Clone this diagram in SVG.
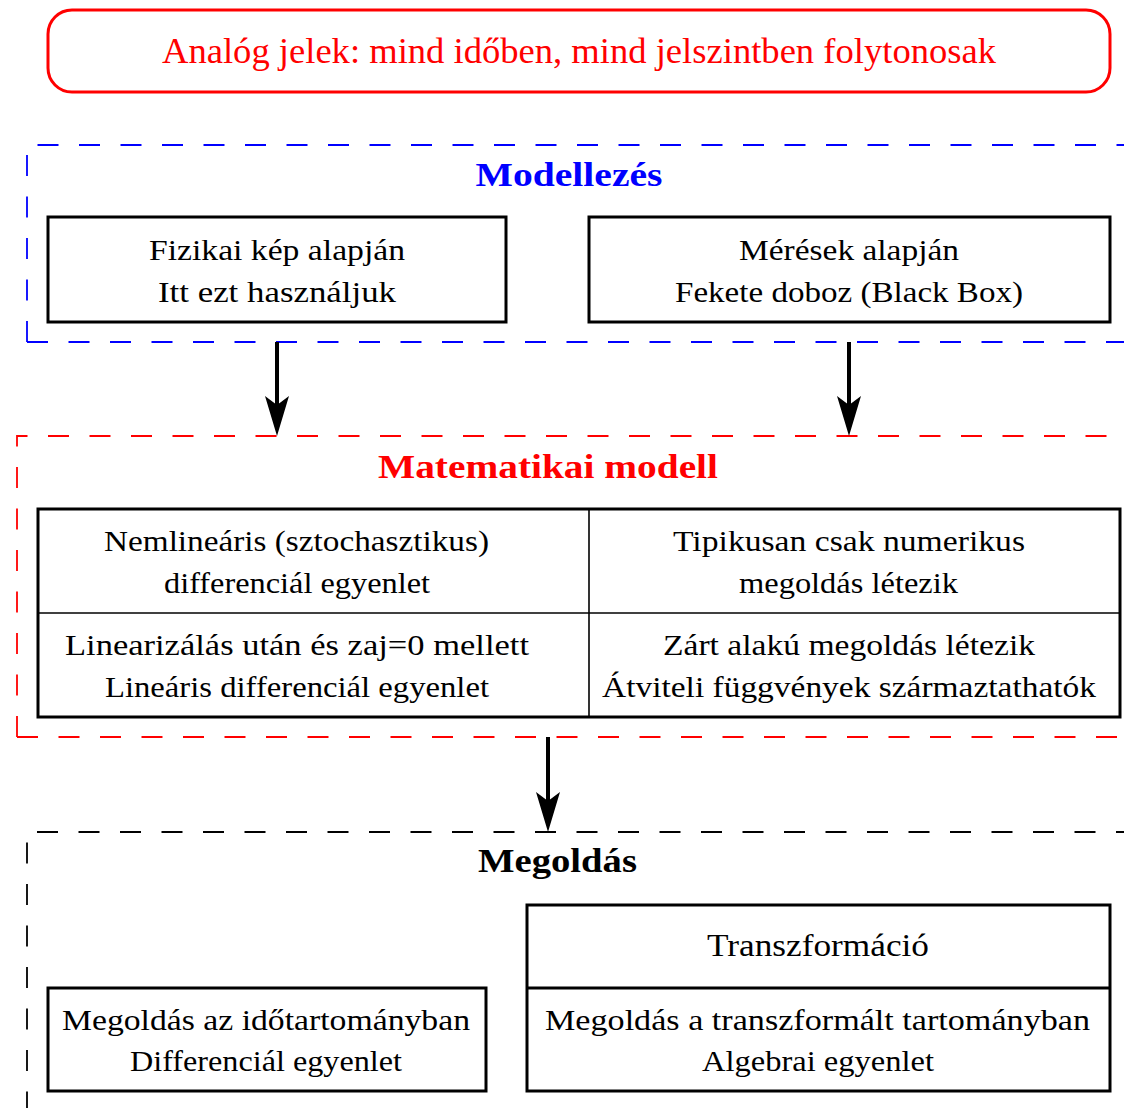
<svg xmlns="http://www.w3.org/2000/svg" width="1124" height="1108" viewBox="0 0 1124 1108">
<style>
text{font-family:"Liberation Serif","Times New Roman",serif;text-anchor:middle;fill:#000}
.t{font-size:29px}
.ttl{font-size:33px;font-weight:bold}
.box{fill:#fff;stroke:#000;stroke-width:3}
.thin{stroke:#000;stroke-width:1.6;fill:none}
.dash{fill:none;stroke-width:1.8;stroke-dasharray:21 20.5}
.arrow{fill:none;stroke:#000;stroke-width:4}
</style>
<defs>
<marker id="ah" viewBox="-41 -13 42 26" refX="-31" refY="0" markerWidth="42" markerHeight="26" markerUnits="userSpaceOnUse" orient="auto">
<path d="M0,0 L-40,-12 L-31,0 L-40,12 Z" fill="#000"/>
</marker>
</defs>
<rect width="1124" height="1108" fill="#fff"/>

<g id="analog">
<rect x="48" y="10" width="1062" height="82" rx="24" ry="24" fill="#fff" stroke="#ff0000" stroke-width="3"/>
<text x="579" y="62.5" font-size="35" style="fill:#ff0000" textLength="834" lengthAdjust="spacingAndGlyphs">Analóg jelek: mind időben, mind jelszintben folytonosak</text>
</g>

<g id="modellezes">
<path class="dash" stroke="#0000ff" d="M27,342 V145 H1140"/>
<path class="dash" stroke="#0000ff" d="M27,342 H1140"/>
<text class="ttl" x="569" y="186" style="fill:#0000ff" textLength="187" lengthAdjust="spacingAndGlyphs">Modellezés</text>
</g>

<g id="fizikai">
<rect class="box" x="48" y="217" width="458" height="105"/>
<text class="t" x="277" y="260" textLength="256" lengthAdjust="spacingAndGlyphs">Fizikai kép alapján</text>
<text class="t" x="277" y="301.5" textLength="238" lengthAdjust="spacingAndGlyphs">Itt ezt használjuk</text>
</g>

<g id="meresek">
<rect class="box" x="589" y="217" width="521" height="105"/>
<text class="t" x="849" y="260" textLength="220" lengthAdjust="spacingAndGlyphs">Mérések alapján</text>
<text class="t" x="849" y="301.5" textLength="348" lengthAdjust="spacingAndGlyphs">Fekete doboz (Black Box)</text>
</g>

<g id="matematikai">
<path class="dash" stroke="#ff0000" d="M17,737 V436 H1140"/>
<path class="dash" stroke="#ff0000" d="M17,737 H1140"/>
<text class="ttl" x="548" y="478" style="fill:#ff0000" textLength="340" lengthAdjust="spacingAndGlyphs">Matematikai modell</text>
</g>

<g id="tabla">
<rect class="box" x="38" y="509" width="1082" height="208"/>
<line class="thin" x1="589" y1="509" x2="589" y2="717"/>
<line class="thin" x1="38" y1="613" x2="1120" y2="613"/>
<text class="t" x="296.5" y="551" textLength="385" lengthAdjust="spacingAndGlyphs">Nemlineáris (sztochasztikus)</text>
<text class="t" x="297" y="593" textLength="266" lengthAdjust="spacingAndGlyphs">differenciál egyenlet</text>
<text class="t" x="849" y="551" textLength="352" lengthAdjust="spacingAndGlyphs">Tipikusan csak numerikus</text>
<text class="t" x="848.5" y="593" textLength="219" lengthAdjust="spacingAndGlyphs">megoldás létezik</text>
<text class="t" x="297" y="655" textLength="464" lengthAdjust="spacingAndGlyphs">Linearizálás után és zaj=0 mellett</text>
<text class="t" x="297" y="697" textLength="384" lengthAdjust="spacingAndGlyphs">Lineáris differenciál egyenlet</text>
<text class="t" x="849" y="655" textLength="372" lengthAdjust="spacingAndGlyphs">Zárt alakú megoldás létezik</text>
<text class="t" x="849" y="697" textLength="494" lengthAdjust="spacingAndGlyphs">Átviteli függvények származtathatók</text>
</g>

<g id="megoldas">
<path class="dash" stroke="#000" d="M27,1112.5 V832 H1140"/>
<text class="ttl" x="557.5" y="872" textLength="159" lengthAdjust="spacingAndGlyphs">Megoldás</text>
</g>

<g id="idotartomany">
<rect class="box" x="48" y="988" width="438" height="103"/>
<text class="t" x="266" y="1030" textLength="408" lengthAdjust="spacingAndGlyphs">Megoldás az időtartományban</text>
<text class="t" x="266" y="1071" textLength="272" lengthAdjust="spacingAndGlyphs">Differenciál egyenlet</text>
</g>

<g id="transzformacio">
<rect class="box" x="527" y="905" width="583" height="186"/>
<line x1="527" y1="988" x2="1110" y2="988" stroke="#000" stroke-width="3"/>
<text x="818" y="956" font-size="31" textLength="222" lengthAdjust="spacingAndGlyphs">Transzformáció</text>
<text class="t" x="817.5" y="1030" textLength="545" lengthAdjust="spacingAndGlyphs">Megoldás a transzformált tartományban</text>
<text class="t" x="818" y="1071" textLength="232" lengthAdjust="spacingAndGlyphs">Algebrai egyenlet</text>
</g>

<g id="connectors">
<line class="arrow" x1="277" y1="342" x2="277" y2="405" marker-end="url(#ah)"/>
<line class="arrow" x1="849" y1="342" x2="849" y2="405" marker-end="url(#ah)"/>
<line class="arrow" x1="548" y1="737" x2="548" y2="801" marker-end="url(#ah)"/>
</g>
</svg>
